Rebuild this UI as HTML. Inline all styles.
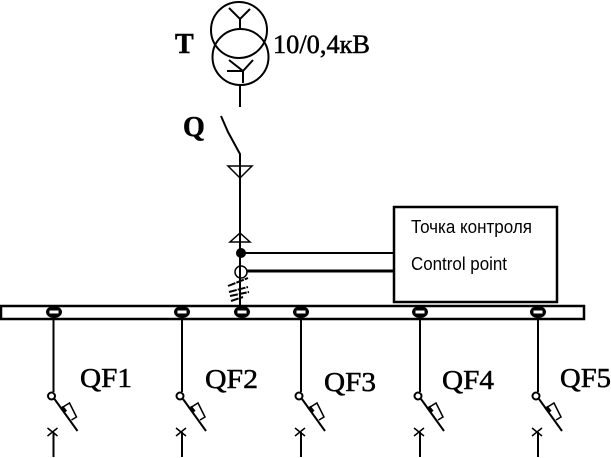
<!DOCTYPE html>
<html>
<head>
<meta charset="utf-8">
<style>
html,body{margin:0;padding:0;background:#fff;width:611px;height:458px;overflow:hidden}
svg{display:block}
.s{font-family:"Liberation Serif","Noto Serif CJK SC",serif;fill:#000;stroke:#000;stroke-width:.5px}
.a{font-family:"Liberation Sans",sans-serif;fill:#000;font-size:18px}
</style>
</head>
<body>
<svg width="611" height="458" viewBox="0 0 611 458" xmlns="http://www.w3.org/2000/svg">
<defs>
<g id="f" fill="none" stroke="#000">
  <path d="M0 319V392" stroke-width="2"/>
  <circle cx="-2" cy="396" r="3.500" stroke-width="2"/>
  <path d="M1 399L24 431" stroke-width="2"/>
  <path d="M8 408L16 403L23 417L18 420" stroke-width="1.500"/>
  <path d="M8 407L12 412" stroke-width="4"/>
  <path d="M-6 428L4 436M4 428L-6 436" stroke-width="1.500"/>
  <path d="M0 432V457" stroke-width="2"/>
</g>
<g id="c">
  <ellipse cx="0" cy="312" rx="8" ry="6" fill="#000"/>
  <rect x="-4.500" y="310.500" width="9" height="3" fill="#fff"/>
</g>
</defs>

<!-- Transformer -->
<g fill="none" stroke="#000" stroke-width="2">
  <circle cx="239" cy="30" r="28"/>
  <circle cx="240.500" cy="57" r="28"/>
  <path d="M229 8L240 19L250 9M240 19V28"/>
  <path d="M229 60L243 71L253 60M227 71H243M243 71V83"/>
  <path d="M240 85V107"/>
  <!-- Q switch -->
  <path d="M221 116L228 132L240 154V306"/>
  <path d="M228 166H252L240 178Z" stroke-width="1.500"/>
  <path d="M230 242H250L240 233Z" stroke-width="1.500"/>
  <circle cx="241" cy="272" r="6" stroke-width="1.500"/>
  <path d="M241 253H394" stroke-width="2"/>
  <path d="M247 271H394" stroke-width="3"/>
  <path d="M228 286L248 278M229 292L248 287M230 296L249 292M231 301L243 297" stroke-width="2" stroke-dasharray="8 1"/>
  <!-- Box -->
  <rect x="394" y="207" width="163" height="95" stroke-width="2.500"/>
  <!-- Bus -->
  <rect x="1" y="306" width="583" height="13" stroke-width="2.500"/>
</g>
<circle cx="241" cy="253" r="5" fill="#000"/>

<!-- Bus contacts -->
<use href="#c" x="54"/>
<use href="#c" x="182"/>
<use href="#c" x="242"/>
<use href="#c" x="301"/>
<use href="#c" x="420"/>
<use href="#c" x="538"/>

<!-- Feeders -->
<use href="#f" x="53.500"/>
<use href="#f" x="182"/>
<use href="#f" x="301"/>
<use href="#f" x="420"/>
<use href="#f" x="538"/>

<!-- Labels -->
<text class="s" x="175" y="53" font-size="28" font-weight="bold">T</text>
<text class="s" x="183" y="136" font-size="28" font-weight="bold">Q</text>
<text class="s" x="273" y="53" font-size="26" textLength="97" lengthAdjust="spacingAndGlyphs">10/0,4кВ</text>
<text class="a" x="411" y="233" textLength="121" lengthAdjust="spacingAndGlyphs">Точка контроля</text>
<text class="a" x="411" y="270" textLength="96" lengthAdjust="spacingAndGlyphs">Control point</text>
<text class="s" x="80" y="387" font-size="27" textLength="52" lengthAdjust="spacingAndGlyphs">QF1</text>
<text class="s" x="205" y="388" font-size="27" textLength="53" lengthAdjust="spacingAndGlyphs">QF2</text>
<text class="s" x="324" y="391" font-size="27" textLength="52" lengthAdjust="spacingAndGlyphs">QF3</text>
<text class="s" x="442" y="389" font-size="27" textLength="52" lengthAdjust="spacingAndGlyphs">QF4</text>
<text class="s" x="560" y="387" font-size="27" textLength="51" lengthAdjust="spacingAndGlyphs">QF5</text>
</svg>
</body>
</html>
